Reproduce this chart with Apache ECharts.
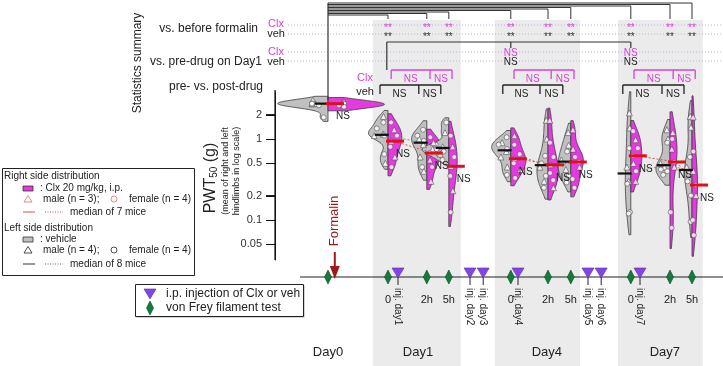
<!DOCTYPE html>
<html>
<head>
<meta charset="utf-8">
<script src="https://cdn.jsdelivr.net/npm/echarts@6/dist/echarts.min.js"></script>
<style>
html, body { margin: 0; padding: 0; background: #fff; }
#chart { width: 723px; height: 366px; }
</style>
</head>
<body>
<div id="chart"></div>
<script>
// ---- timeline (x in schematic day units) ----
var timeNames = ['Day0', 'Day1 0h', 'Day1 2h', 'Day1 5h', 'Day4 0h', 'Day4 2h', 'Day4 5h', 'Day7 0h', 'Day7 2h', 'Day7 5h'];
var timeX = [0, 1.5, 2.47, 3.02, 4.57, 5.5, 6.07, 7.57, 8.55, 9.1];
var hourLabels = ['', '0', '2h', '5h', '0', '2h', '5h', '0', '2h', '5h'];
var injX = [1.75, 3.55, 3.88, 4.75, 6.5, 6.83, 7.8];
var injLabels = ['inj. day1', 'inj. day2', 'inj. day3', 'inj. day4', 'inj. day5', 'inj. day6', 'inj. day7'];
var dayNames = ['Day0', 'Day1', 'Day4', 'Day7'];
var dayX = [0, 2.25, 5.47, 8.42];
var bandX = [[1.12, 3.32], [4.17, 6.3], [7.25, 9.37]];
var formalinX = 0.17;

// ---- PWT50 (g) per timepoint ----
var vehMale = [
  [2.73, 2.73, 2.73, 3.0], [1.9, 1.15, 1.1, 0.5], [1.0, 0.85, 0.6, 0.4], [1.2, 0.8, 0.75, 0.65],
  [0.9, 0.7, 0.6, 0.45], [1.7, 1.0, 0.45, 0.3], [1.2, 0.84, 0.55, 0.42],
  [2.1, 1.37, 0.45, 0.3], [1.3, 1.0, 0.5, 0.45], [1.9, 1.4, 0.45, 0.38]
];
var vehFemale = [
  [2.73, 2.73, 2.6, 1.85], [1.6, 1.35, 1.1, 0.65], [1.3, 1.1, 0.95, 0.45], [1.6, 0.85, 0.7, 0.55],
  [1.05, 0.85, 0.75, 0.36], [0.62, 0.5, 0.35, 0.25], [0.7, 0.5, 0.35, 0.29],
  [0.77, 0.28, 0.125, 0.12], [0.9, 0.42, 0.4, 0.36], [0.6, 0.3, 0.2, 0.095]
];
var clxMale = [
  [2.9, 2.73, 2.6], [1.3, 0.94, 0.6], [0.9, 0.55, 0.3], [0.8, 0.46, 0.23],
  [1.1, 0.57, 0.42], [1.7, 0.48, 0.25], [1.3, 0.75, 0.45],
  [0.98, 0.5, 0.3], [1.2, 0.75, 0.45], [1.87, 0.4, 0.2]
];
var clxFemale = [
  [2.73, 2.73, 2.6, 2.5], [1.6, 1.1, 0.8, 0.45], [1.05, 0.75, 0.67, 0.45], [1.1, 0.6, 0.35, 0.125],
  [0.85, 0.65, 0.5, 0.33], [0.9, 0.6, 0.38, 0.31], [0.6, 0.52, 0.32, 0.25],
  [1.25, 0.77, 0.62, 0.4], [1.0, 0.52, 0.125, 0.08], [0.7, 0.27, 0.1, 0.065]
];
var yTicks = [0.05, 0.1, 0.2, 0.5, 1, 2];

// ---- statistics ----
var beforeClx = ['**', '**', '**', '**', '**', '**', '**', '**', '**'];
var beforeVeh = ['**', '**', '**', '**', '**', '**', '**', '**', '**'];
var day1Idx = [4, 7];
var day1Clx = ['NS', 'NS'];
var day1Veh = ['NS', 'NS'];
var prePostClx = ['NS', 'NS', 'NS', 'NS', 'NS', 'NS'];
var prePostVeh = ['NS', 'NS', 'NS', 'NS', 'NS', 'NS'];
var drugVsVeh = ['NS', 'NS', 'NS', 'NS', 'NS', 'NS', 'NS', 'NS', 'NS', 'NS'];

var FONT = 'Liberation Sans, Arial, sans-serif';
var MAG = '#d940d9';
var VIOL_MAG = '#e33be0';
var VIOL_GRAY = '#c0c0c0';
var WSCALE = 0.19;
var X_MIN = -1.325, X_MAX = 9.875, Y_MIN = -1.494, Y_MAX = 0.58;

function lg(v) { return Math.log(v) / Math.LN10; }

function kde(vals) {
  var lv = vals.map(lg).sort(function (a, b) { return a - b; });
  var n = lv.length;
  var mean = lv.reduce(function (s, v) { return s + v; }, 0) / n;
  var sd = Math.sqrt(lv.reduce(function (s, v) { return s + (v - mean) * (v - mean); }, 0) / (n - 1));
  function q(p) { var h = (n - 1) * p, i = Math.floor(h); return lv[i] + (h - i) * (lv[Math.min(i + 1, n - 1)] - lv[i]); }
  var lo = Math.min(sd, (q(0.75) - q(0.25)) / 1.34);
  if (!(lo > 0)) lo = sd;
  var bw = Math.max(0.9 * lo * Math.pow(n, -0.2), 0.05);
  function dens(y) {
    var s = 0;
    for (var i = 0; i < n; i++) { var z = (y - lv[i]) / bw; s += Math.exp(-0.5 * z * z); }
    return s / (n * bw * Math.sqrt(2 * Math.PI));
  }
  var y0 = lv[0] - bw, y1 = lv[n - 1] + bw, prof = [];
  for (var k = 0; k <= 80; k++) { var y = y0 + (y1 - y0) * k / 80; prof.push([y, dens(y)]); }
  return { prof: prof, dens: dens };
}

function median(vals) {
  var s = vals.slice().sort(function (a, b) { return a - b; }), n = s.length;
  return n % 2 ? s[(n - 1) / 2] : (s[n / 2 - 1] + s[n / 2]) / 2;
}

var violins = [];
for (var t = 0; t < timeX.length; t++) {
  [[-1, vehMale[t], vehFemale[t]], [1, clxMale[t], clxFemale[t]]].forEach(function (g) {
    var vals = g[1].concat(g[2]);
    var k = kde(vals);
    violins.push({ t: t, cx: timeX[t], side: g[0], prof: k.prof, dens: k.dens, med: lg(median(vals)), males: g[1], females: g[2] });
  });
}

var fracM = [0.5, 0.25, 0.75, 0.4];
var fracF = [0.35, 0.65, 0.2, 0.55];
function pointData(side, key, frac) {
  var out = [];
  violins.forEach(function (v) {
    if (v.side !== side) return;
    v[key].forEach(function (val, i) {
      var y = lg(val);
      var off = Math.min(frac[i] * WSCALE * v.dens(y), 0.4);
      out.push([v.cx + side * off, y]);
    });
  });
  return out;
}

var chart = echarts.init(document.getElementById('chart'));

var connectorSeries = [];
[[1, 2, 3], [4, 5, 6], [7, 8, 9]].forEach(function (idx) {
  [[-1, '#8a8a8a', -0.1], [1, '#e04848', 0.15]].forEach(function (g) {
    connectorSeries.push({
      type: 'line', xAxisIndex: 0, yAxisIndex: 0, z: 3, symbol: 'none', silent: true,
      lineStyle: { color: g[1], width: 1, type: [2, 2] },
      data: idx.map(function (i) {
        var v = violins.filter(function (w) { return w.t === i && w.side === g[0]; })[0];
        return [v.cx + g[2], v.med];
      })
    });
  });
});

function annot(params, api) {
  var ch = [];
  function P(x, r) { return api.coord([x, r]); }
  function line(x1, r1, x2, r2, color, w, dash) {
    var a = P(x1, r1), b = P(x2, r2);
    ch.push({ type: 'line', shape: { x1: a[0], y1: a[1], x2: b[0], y2: b[1] }, style: { stroke: color, lineWidth: w || 1, lineDash: dash || null } });
  }
  function text(x, r, s, color, size, align, rot) {
    var a = P(x, r);
    ch.push({ type: 'text', x: a[0], y: a[1], rotation: rot || 0,
      style: { text: s, fill: color, fontSize: size, fontFamily: FONT, align: align || 'center', verticalAlign: 'middle' } });
  }
  // dotted guides
  [[25, '#c9a6e6'], [34, '#b8b8d0'], [52, '#c9a6e6'], [61, '#b8b8d0']].forEach(function (d) {
    line(-1.0, d[0], X_MAX, d[0], d[1], 1, [1, 2]);
  });
  // vs. before formalin
  var n = timeX.length;
  line(timeX[0], 3, timeX[0], 100, '#333', 1.2);
  for (var i = 1; i < n; i++) {
    var r = 3 + (n - 1 - i) * 1.5;
    line(timeX[0], r, timeX[i], r, '#333', 1);
    line(timeX[i], r, timeX[i], 19, '#333', 1);
    text(timeX[i], 28, beforeClx[i - 1], MAG, 10);
    text(timeX[i], 37, beforeVeh[i - 1], '#333', 10);
  }
  // vs. pre-drug on Day1
  var x1 = timeX[1] - 0.03;
  line(x1, 42, x1, 70, '#333', 1.2);
  line(x1, 42, timeX[day1Idx[day1Idx.length - 1]], 42, '#333', 1.2);
  day1Idx.forEach(function (k, j) {
    line(timeX[k], 42, timeX[k], 48, '#333', 1.2);
    text(timeX[k], 53, day1Clx[j], MAG, 10);
    text(timeX[k], 62, day1Veh[j], '#222', 10);
  });
  // pre- vs post-drug brackets
  [[1, 2, 3], [4, 5, 6], [7, 8, 9]].forEach(function (idx, s) {
    var xc = idx.map(function (k) { return timeX[k] + 0.08; });
    line(xc[0], 70, xc[2], 70, MAG, 1.3);
    xc.forEach(function (x) { line(x, 70, x, 79, MAG, 1.3); });
    text((xc[0] + xc[1]) / 2, 79, prePostClx[2 * s], MAG, 10);
    text((xc[1] + xc[2]) / 2, 79, prePostClx[2 * s + 1], MAG, 10);
    var xv = idx.map(function (k) { return timeX[k] - 0.2; });
    line(xv[0], 85, xv[2], 85, '#222', 1.3);
    xv.forEach(function (x) { line(x, 85, x, 94, '#222', 1.3); });
    text((xv[0] + xv[1]) / 2, 94, prePostVeh[2 * s], '#222', 10);
    text((xv[1] + xv[2]) / 2, 94, prePostVeh[2 * s + 1], '#222', 10);
  });
  // timeline
  line(-0.7, 277, X_MAX, 277, '#222', 1.2);
  injX.forEach(function (x, j) {
    line(x, 277, x, 285, '#222', 1);
    var a = P(x, 278);
    ch.push({ type: 'polygon', shape: { points: [[a[0] - 6, a[1] - 10], [a[0] + 6, a[1] - 10], [a[0], a[1]]] }, style: { fill: '#8246e6', stroke: '#5a2aa8', lineWidth: 0.6 } });
    text(x, 288, injLabels[j], '#222', 10, 'left', -Math.PI / 2);
  });
  timeX.forEach(function (x, j) {
    var a = P(x, 277);
    ch.push({ type: 'polygon', shape: { points: [[a[0], a[1] - 7], [a[0] + 3.5, a[1]], [a[0], a[1] + 7], [a[0] - 3.5, a[1]]] }, style: { fill: '#157a3c', stroke: '#0b4a22', lineWidth: 0.6 } });
    if (hourLabels[j]) text(x, 300, hourLabels[j], '#222', 11);
  });
  dayNames.forEach(function (d, j) { text(dayX[j], 352, d, '#222', 13); });
  // formalin arrow
  line(formalinX, 252, formalinX, 268, '#9e1a1a', 2);
  var f = P(formalinX, 279);
  ch.push({ type: 'polygon', shape: { points: [[f[0] - 5, f[1] - 13], [f[0] + 5, f[1] - 13], [f[0], f[1]]] }, style: { fill: '#9e1a1a' } });
  text(formalinX, 221, 'Formalin', '#9e1a1a', 13, 'center', Math.PI / 2);
  return { type: 'group', children: ch };
}

function gText(x, y, s, opt) {
  opt = opt || {};
  return { type: 'text', x: x, y: y, rotation: opt.rot || 0, z: 10,
    style: { text: s, fill: opt.color || '#222', fontSize: opt.size || 10, fontFamily: FONT,
      align: opt.align || 'left', verticalAlign: 'middle', rich: opt.rich } };
}

var graphics = [
  gText(138, 63, 'Statistics summary', { size: 12, align: 'center', rot: Math.PI / 2 }),
  gText(258, 29, 'vs. before formalin', { size: 12, align: 'right' }),
  gText(276, 24, 'Clx', { size: 11, align: 'center', color: MAG }),
  gText(276, 34, 'veh', { size: 11, align: 'center' }),
  gText(262, 62, 'vs. pre-drug on Day1', { size: 12, align: 'right' }),
  gText(276, 52, 'Clx', { size: 11, align: 'center', color: MAG }),
  gText(276, 62, 'veh', { size: 11, align: 'center' }),
  gText(263, 87, 'pre- vs. post-drug', { size: 12, align: 'right' }),
  gText(365, 78, 'Clx', { size: 11, align: 'center', color: MAG }),
  gText(365, 92, 'veh', { size: 11, align: 'center' }),
  gText(211, 178, '{a|PWT}{b|50}{a| (g)}', { align: 'center', rot: Math.PI / 2,
    rich: { a: { fontSize: 16, fontFamily: FONT, fill: '#222' }, b: { fontSize: 10, fontFamily: FONT, fill: '#222', verticalAlign: 'bottom', padding: [6, 0, 0, 0] } } }),
  gText(226, 171, '(mean of right and left', { size: 9, align: 'center', rot: Math.PI / 2 }),
  gText(237, 171, 'hindlimbs in log scale)', { size: 9, align: 'center', rot: Math.PI / 2 }),
  // legend box 1
  { type: 'rect', shape: { x: 2.5, y: 168.5, width: 192, height: 107 }, style: { fill: '#fff', stroke: '#222', lineWidth: 1 }, z: 9 },
  gText(4, 176, 'Right side distribution'),
  { type: 'rect', shape: { x: 23, y: 186, width: 10, height: 5 }, style: { fill: VIOL_MAG, stroke: '#333', lineWidth: 0.8 }, z: 10 },
  gText(40, 188, ': Clx 20 mg/kg, i.p.'),
  { type: 'polygon', shape: { points: [[28, 195.5], [24, 202], [32, 202]] }, style: { fill: 'none', stroke: '#e07070', lineWidth: 0.8 }, z: 10 },
  gText(43, 199, 'male (n = 3);'),
  { type: 'circle', shape: { cx: 114, cy: 199, r: 3 }, style: { fill: 'none', stroke: '#e07070', lineWidth: 0.8 }, z: 10 },
  gText(129, 199, 'female (n = 4)'),
  { type: 'line', shape: { x1: 23, y1: 212, x2: 35, y2: 212 }, style: { stroke: '#e04848', lineWidth: 1 }, z: 10 },
  { type: 'line', shape: { x1: 45, y1: 212, x2: 63, y2: 212 }, style: { stroke: '#e04848', lineWidth: 1, lineDash: [1, 1.5] }, z: 10 },
  gText(70, 212, 'median of 7 mice'),
  gText(4, 228, 'Left side distribution'),
  { type: 'rect', shape: { x: 23, y: 237, width: 10, height: 5 }, style: { fill: VIOL_GRAY, stroke: '#333', lineWidth: 0.8 }, z: 10 },
  gText(40, 239, ': vehicle'),
  { type: 'polygon', shape: { points: [[28, 246.5], [24, 253], [32, 253]] }, style: { fill: 'none', stroke: '#222', lineWidth: 0.8 }, z: 10 },
  gText(43, 250, 'male (n = 4);'),
  { type: 'circle', shape: { cx: 114, cy: 250, r: 3 }, style: { fill: 'none', stroke: '#222', lineWidth: 0.8 }, z: 10 },
  gText(129, 250, 'female (n = 4)'),
  { type: 'line', shape: { x1: 23, y1: 264, x2: 35, y2: 264 }, style: { stroke: '#333', lineWidth: 1 }, z: 10 },
  { type: 'line', shape: { x1: 45, y1: 264, x2: 63, y2: 264 }, style: { stroke: '#666', lineWidth: 1, lineDash: [1, 1.5] }, z: 10 },
  gText(70, 264, 'median of 8 mice'),
  // legend box 2
  { type: 'rect', shape: { x: 136.5, y: 285.5, width: 168, height: 32 }, style: { fill: '#aaa' }, z: 9 },
  { type: 'rect', shape: { x: 135.5, y: 284.5, width: 168, height: 32 }, style: { fill: '#fff', stroke: '#222', lineWidth: 1 }, z: 9 },
  { type: 'polygon', shape: { points: [[144, 289], [156, 289], [150, 299]] }, style: { fill: '#8246e6', stroke: '#5a2aa8', lineWidth: 0.6 }, z: 10 },
  gText(166, 294, 'i.p. injection of Clx or veh', { size: 12 }),
  { type: 'polygon', shape: { points: [[150, 301], [153.5, 308], [150, 315], [146.5, 308]] }, style: { fill: '#157a3c', stroke: '#0b4a22', lineWidth: 0.6 }, z: 10 },
  gText(166, 308, 'von Frey filament test', { size: 12 })
];

var option = {
  animation: false,
  grid: [
    { left: 275, right: 0, top: 92, height: 168 },
    { left: 275, right: 0, top: 0, bottom: 0 }
  ],
  xAxis: [
    { gridIndex: 0, type: 'value', min: X_MIN, max: X_MAX, show: false },
    { gridIndex: 1, type: 'value', min: X_MIN, max: X_MAX, show: false }
  ],
  yAxis: [
    {
      gridIndex: 0, type: 'value', min: Y_MIN, max: Y_MAX, position: 'left',
      axisLine: { show: true, onZero: false, lineStyle: { color: '#222', width: 1 } },
      axisTick: { show: true, length: 9, customValues: yTicks.map(lg), lineStyle: { color: '#222' } },
      axisLabel: {
        customValues: yTicks.map(lg), margin: 13, fontSize: 11, fontFamily: FONT, color: '#333',
        formatter: function (v) {
          for (var i = 0; i < yTicks.length; i++) if (Math.abs(lg(yTicks[i]) - v) < 1e-6) return String(yTicks[i]);
          return '';
        }
      },
      splitLine: { show: false }
    },
    { gridIndex: 1, type: 'value', min: 0, max: 366, inverse: true, show: false }
  ],
  graphic: graphics,
  series: [
    {
      type: 'custom', xAxisIndex: 1, yAxisIndex: 1, z: 0, silent: true, data: [[0, 100]],
      renderItem: function (params, api) {
        return { type: 'group', children: bandX.map(function (b) {
          var a = api.coord([b[0], 20]), c = api.coord([b[1], 366]);
          return { type: 'rect', shape: { x: a[0], y: a[1], width: c[0] - a[0], height: c[1] - a[1] }, style: { fill: '#ebebeb' } };
        }) };
      }
    },
    {
      type: 'custom', xAxisIndex: 0, yAxisIndex: 0, z: 2, silent: true,
      data: violins.map(function (v) { return [v.cx, v.med]; }),
      renderItem: function (params, api) {
        var v = violins[params.dataIndex];
        var pts = [api.coord([v.cx, v.prof[0][0]])];
        v.prof.forEach(function (p) { pts.push(api.coord([v.cx + v.side * WSCALE * p[1], p[0]])); });
        pts.push(api.coord([v.cx, v.prof[v.prof.length - 1][0]]));
        return { type: 'polygon', shape: { points: pts }, style: { fill: v.side < 0 ? VIOL_GRAY : VIOL_MAG, stroke: '#3a3a3a', lineWidth: 0.8 } };
      }
    }
  ].concat(connectorSeries).concat([
    {
      type: 'custom', xAxisIndex: 0, yAxisIndex: 0, z: 5, silent: true,
      data: violins.map(function (v) { return [v.cx, v.med]; }),
      renderItem: function (params, api) {
        var v = violins[params.dataIndex];
        var ch = [];
        if (v.side < 0) {
          var a = api.coord([v.cx - 0.33, v.med]), b = api.coord([v.cx + 0.02, v.med]);
          ch.push({ type: 'line', shape: { x1: a[0], y1: a[1], x2: b[0], y2: b[1] }, style: { stroke: '#111', lineWidth: 2.2 } });
        } else {
          var c = api.coord([v.cx - 0.05, v.med]), d = api.coord([v.cx + 0.4, v.med]);
          ch.push({ type: 'line', shape: { x1: c[0], y1: c[1], x2: d[0], y2: d[1] }, style: { stroke: '#e0101a', lineWidth: 3 } });
          var p = api.coord([v.cx, v.med]);
          ch.push({ type: 'text', x: p[0] + 8, y: p[1] + 13, style: { text: drugVsVeh[v.t], fill: '#222', fontSize: 10, fontFamily: FONT, align: 'left', verticalAlign: 'middle' } });
        }
        return { type: 'group', children: ch };
      }
    },
    { type: 'scatter', xAxisIndex: 0, yAxisIndex: 0, z: 4, symbol: 'triangle', symbolSize: 6, silent: true,
      itemStyle: { color: '#fff', borderColor: '#555', borderWidth: 0.8 }, data: pointData(-1, 'males', fracM) },
    { type: 'scatter', xAxisIndex: 0, yAxisIndex: 0, z: 4, symbol: 'circle', symbolSize: 5, silent: true,
      itemStyle: { color: '#fff', borderColor: '#555', borderWidth: 0.8 }, data: pointData(-1, 'females', fracF) },
    { type: 'scatter', xAxisIndex: 0, yAxisIndex: 0, z: 4, symbol: 'triangle', symbolSize: 6, silent: true,
      itemStyle: { color: '#fff', borderColor: '#7a3a70', borderWidth: 0.8 }, data: pointData(1, 'males', fracM) },
    { type: 'scatter', xAxisIndex: 0, yAxisIndex: 0, z: 4, symbol: 'circle', symbolSize: 5, silent: true,
      itemStyle: { color: '#fff', borderColor: '#7a3a70', borderWidth: 0.8 }, data: pointData(1, 'females', fracF) },
    { type: 'custom', xAxisIndex: 1, yAxisIndex: 1, z: 6, silent: true, data: [[0, 100]], renderItem: annot }
  ])
};
chart.setOption(option);

// y axis line and ticks, positioned through the grid-0 scales
var axTop = chart.convertToPixel({ gridIndex: 0 }, [X_MIN, Y_MAX]);
var axBot = chart.convertToPixel({ gridIndex: 0 }, [X_MIN, Y_MIN]);
var axX = axTop[0];
var axisEls = [{ type: 'rect', z: 20, shape: { x: axX - 0.6, y: Math.min(axTop[1], axBot[1]) - 2, width: 1.3, height: Math.abs(axBot[1] - axTop[1]) + 2 }, style: { fill: '#111' } }];
yTicks.forEach(function (tv) {
  var p = chart.convertToPixel({ gridIndex: 0 }, [X_MIN, lg(tv)]);
  axisEls.push({ type: 'line', z: 20, shape: { x1: axX - 9, y1: Math.round(p[1]) + 0.5, x2: axX, y2: Math.round(p[1]) + 0.5 }, style: { stroke: '#111', lineWidth: 1 } });
});
chart.setOption({ graphic: graphics.concat(axisEls) });
</script>
</body>
</html>
